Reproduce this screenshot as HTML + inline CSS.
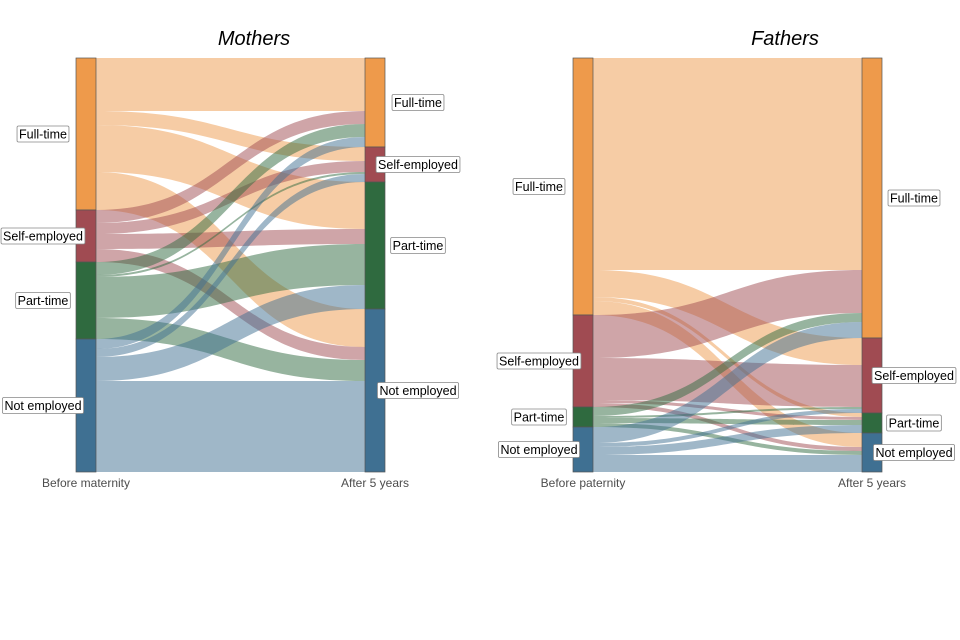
<!DOCTYPE html>
<html><head><meta charset="utf-8"><style>
body{margin:0;background:#fff;}
svg{display:block;font-family:"Liberation Sans",sans-serif;}
</style></head><body>
<svg id="chart" width="960" height="640">
<text x="254" y="45" font-size="20" font-style="italic" text-anchor="middle" fill="#000">Mothers</text>
<text x="785" y="45" font-size="20" font-style="italic" text-anchor="middle" fill="#000">Fathers</text>
</svg>
<script>
const categories = ["Full-time","Self-employed","Part-time","Not employed"];
// rows: before, cols: after (FT, SE, PT, NE)
const mothersFlows = [
  [53,14,47,38],
  [13,11,15,13],
  [13,2,41,21],
  [10,8,24,91]
];
const fathersFlows = [
  [212,27,4,14],
  [43,42,3,4],
  [9,2,5,4],
  [16,4,8,17]
];
const mothersAxis = ["Before maternity","After 5 years"];
const fathersAxis = ["Before paternity","After 5 years"];
const strataColors = ["#EE9A4B","#A04B52","#2F6A3F","#3F7092"];
const NS = "http://www.w3.org/2000/svg";
const svg = document.getElementById('chart');
function mk(tag, attrs, parent){const e=document.createElementNS(NS,tag);for(const k in attrs)e.setAttribute(k,attrs[k]);(parent||svg).appendChild(e);return e;}

function drawPanel(flows, axisLabels, xL, xR, name, labL, labR){
  const top=58, bottom=472, sw=20;
  let total=0; flows.forEach(r=>r.forEach(v=>total+=v));
  const k=(bottom-top)/total;
  const leftTot=flows.map(r=>r.reduce((a,b)=>a+b,0));
  const rightTot=categories.map((c,j)=>flows.reduce((a,r)=>a+r[j],0));
  const leftY=[], rightY=[]; let y=top;
  leftTot.forEach(v=>{leftY.push(y);y+=v*k;});
  y=top; rightTot.forEach(v=>{rightY.push(y);y+=v*k;});
  const g=mk('g',{});
  
  
  const x0=xL+sw, x1=xR, xm=(x0+x1)/2;
  const lCur=leftY.slice(), rOff=rightY.slice();
  // right positions ordered by origin
  const rStart=[];
  for(let i=0;i<4;i++){rStart.push([]);}
  for(let j=0;j<4;j++){let yy=rightY[j];for(let i=0;i<4;i++){rStart[i][j]=yy;yy+=flows[i][j]*k;}}
  for(let i=0;i<4;i++){
    for(let j=0;j<4;j++){
      const h=flows[i][j]*k; const a=lCur[i], b=rStart[i][j];
      lCur[i]+=h;
      if(h<=0) continue;
      const p=mk('path',{d:`M${x0},${a} C${xm},${a} ${xm},${b} ${x1},${b} L${x1},${b+h} C${xm},${b+h} ${xm},${a+h} ${x0},${a+h} Z`,fill:strataColors[i],'fill-opacity':0.5},g);
      
      
    }
  }
  for(let i=0;i<4;i++){
    const r1=mk('rect',{x:xL,y:leftY[i],width:sw,height:leftTot[i]*k,fill:strataColors[i],stroke:'#555','stroke-width':0.7},g);
    
    
    const r2=mk('rect',{x:xR,y:rightY[i],width:sw,height:rightTot[i]*k,fill:strataColors[i],stroke:'#555','stroke-width':0.7},g);
    
    
  }
  function label(cx,cy,txt){
    const lg=mk('g',{},g);
    
    
    const t=mk('text',{x:cx,y:cy+4.5,'font-size':12.5,'text-anchor':'middle',fill:'#000'},lg);
    t.textContent=txt;
    const w=t.getComputedTextLength();
    const r=mk('rect',{x:cx-w/2-2,y:cy-8,width:w+4,height:16,fill:'#fff',stroke:'#888','stroke-width':0.8,rx:1.5});
    lg.insertBefore(r,t);
  }
  for(let i=0;i<4;i++){
    label(labL, leftY[i]+leftTot[i]*k/2, categories[i]);
    label(labR, rightY[i]+rightTot[i]*k/2, categories[i]);
  }
  const a1=mk('text',{x:xL+sw/2,y:487,'font-size':12,'text-anchor':'middle',fill:'#4d4d4d'},g);
  a1.textContent=axisLabels[0];
  
  
  const a2=mk('text',{x:xR+sw/2,y:487,'font-size':12,'text-anchor':'middle',fill:'#4d4d4d'},g);
  a2.textContent=axisLabels[1];
  
  
}
drawPanel(mothersFlows, mothersAxis, 76, 365, 'mothers', 43, 418);
drawPanel(fathersFlows, fathersAxis, 573, 862, 'fathers', 539, 914);
</script>
</body></html>
